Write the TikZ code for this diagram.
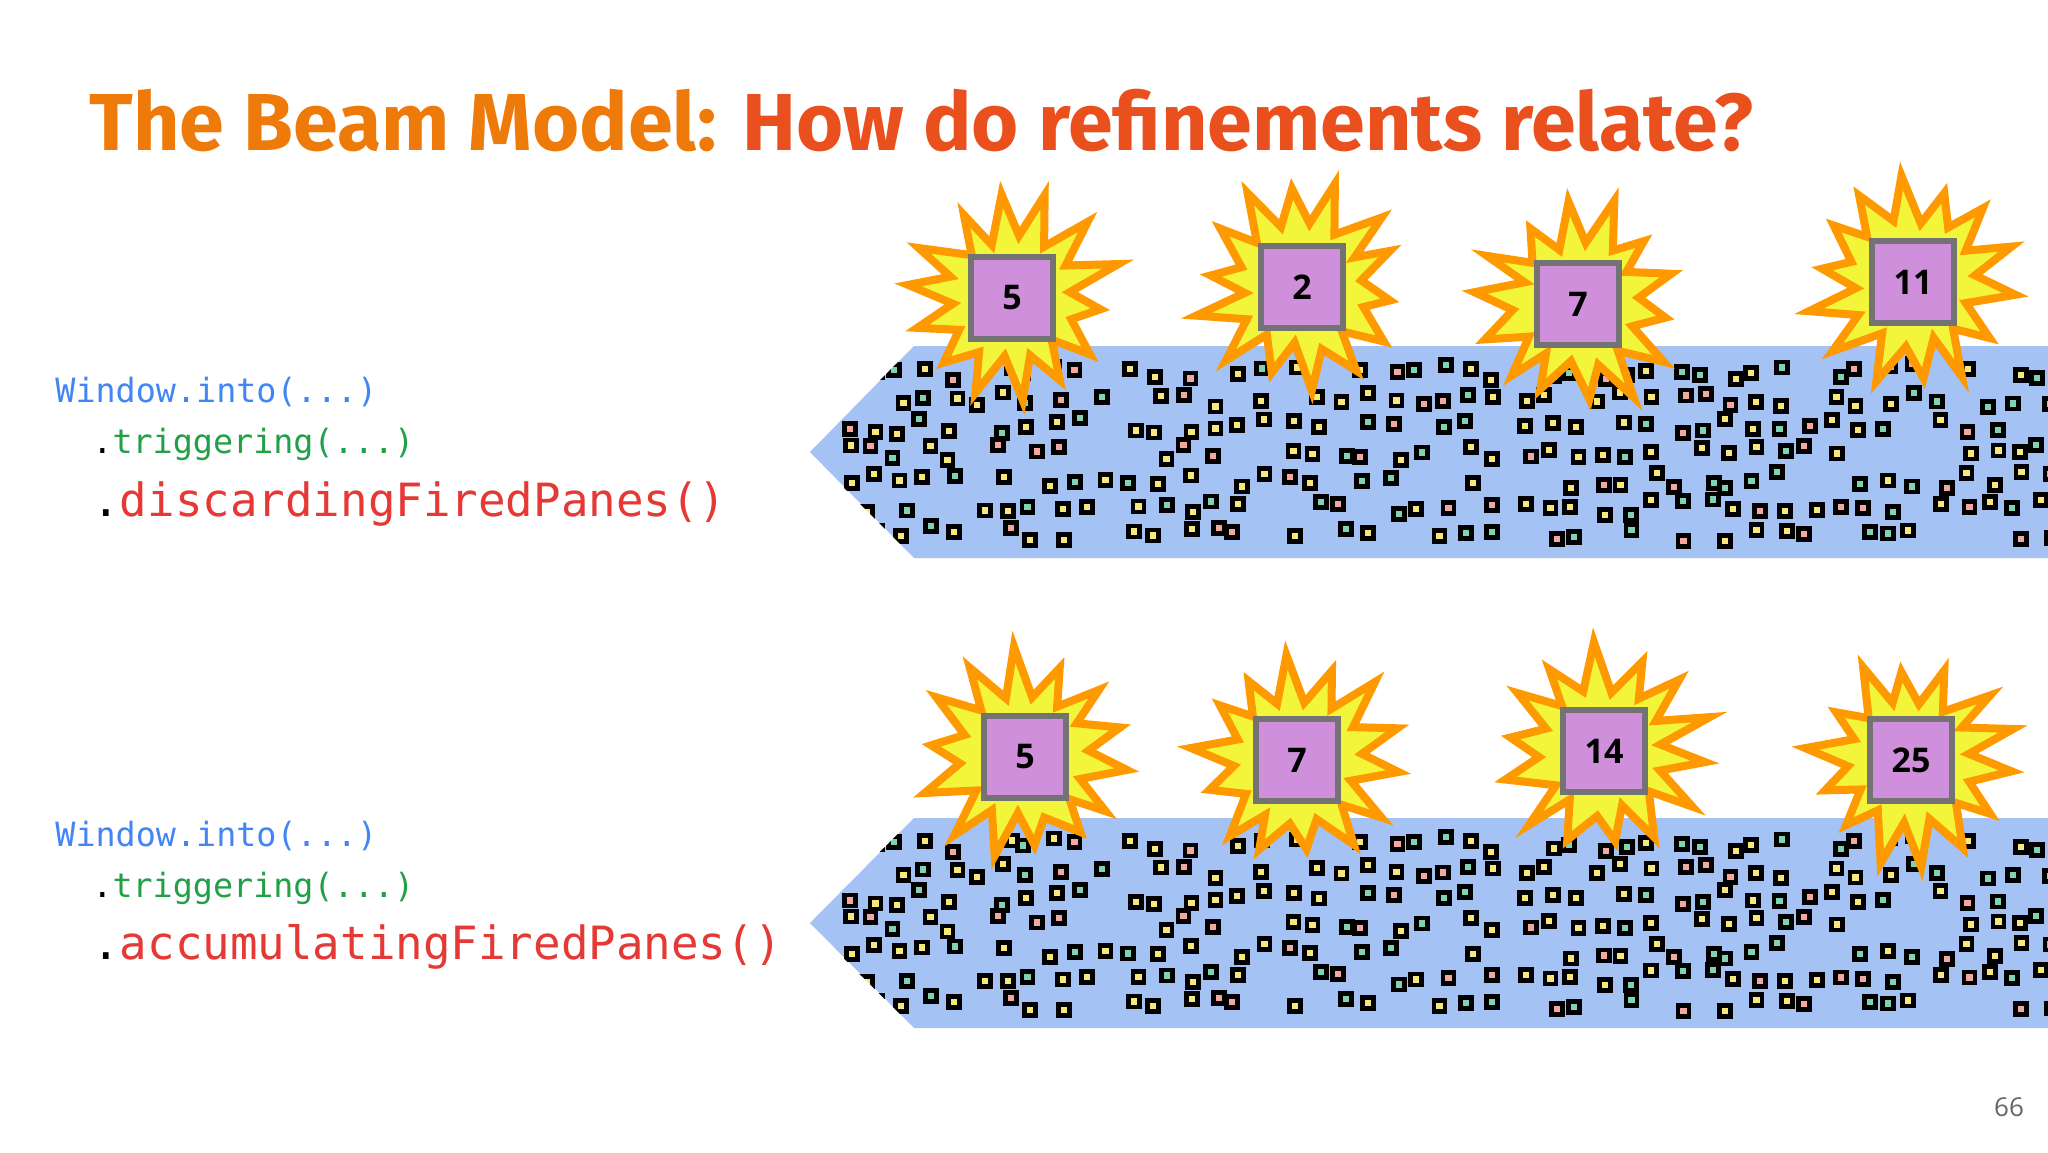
\documentclass[tikz,border=0pt]{standalone}
\usepackage{fontspec}
\setmainfont{Open Sans}
\newfontfamily\titlefont{Fira Sans}
\setmonofont{DejaVu Sans Mono}
\usepackage{graphicx}
\definecolor{tor}{HTML}{EE7A0A}
\definecolor{tred}{HTML}{E9501E}
\definecolor{cblue}{HTML}{4285F4}
\definecolor{cgreen}{HTML}{23A047}
\definecolor{cred}{HTML}{E53935}
\definecolor{band}{HTML}{A4C2F4}
\definecolor{dp}{HTML}{F4A7A0}
\definecolor{dy}{HTML}{F7E87A}
\definecolor{dt}{HTML}{7FD3B2}
\definecolor{syel}{HTML}{F2F53A}
\definecolor{sora}{HTML}{FF9900}
\definecolor{boxp}{HTML}{CF8FDB}
\pgfmathdeclarerandomlist{dotc}{{dp}{dy}{dt}{dy}}
\tikzset{
  codebig/.style={anchor=west,font=\ttfamily\fontsize{22.9}{24}\selectfont,inner sep=0},
  codesm/.style={anchor=west,font=\ttfamily\fontsize{16.7}{18}\selectfont,inner sep=0},
  numbox/.style={draw=black!55,line width=3pt,fill=boxp,minimum size=41pt,inner sep=0,
     font=\bfseries\fontsize{17}{18}\selectfont},
  starsh/.style={fill=syel,draw=sora,line width=4pt,line join=miter,miter limit=10}
}
\newcommand{\burst}[3]{%
  \pgfmathsetseed{#3}
  \draw[starsh] plot[samples at={0,...,27}] ({#1+cos(\x*360/28+7)*(mod(\x,2)==0?(88+rnd*25):(56+rnd*10))},{#2+sin(\x*360/28+7)*(mod(\x,2)==0?(88+rnd*25):(56+rnd*10))}) -- cycle;
}
\newcommand{\bandat}[2]{% top y, bottom y
  \pgfmathsetmacro{\mid}{(#1+#2)/2}
  \fill[band] (2048,#1) -- (914,#1) -- (810,\mid) -- (914,#2) -- (2048,#2) -- cycle;
  \begin{scope}
  \clip (2048,#1) -- (914,#1) -- (808,\mid) -- (914,#2) -- (2048,#2) -- cycle;
  \pgfmathsetseed{4242}
  \foreach \c in {0,...,47}{
   \foreach \r in {0,...,6}{
    \pgfmathsetmacro{\dx}{848+\c*26+rand*8}
    \pgfmathsetmacro{\dy}{#1+26+\r*(#2-#1-50)/6+rand*8}
    \pgfmathsetmacro{\keep}{rnd}
    \pgfmathrandomitem{\dc}{dotc}
    \ifdim\keep pt<0.78pt
    \draw[black,line width=2.4pt,fill=\dc] (\dx-5.5,\dy-5.5) rectangle (\dx+5.5,\dy+5.5);
    \fi
   }
  }
  \end{scope}
}
\begin{document}
\begin{tikzpicture}[x=0.5pt,y=-0.5pt]
\useasboundingbox[fill=white] (0,0) rectangle (2048,1152);
\node[anchor=base west,inner sep=0] (title) at (89,150)
  {\resizebox{832pt}{!}{\titlefont\bfseries\color{tor}The Beam Model: \color{tred}How do refinements relate?}};
\bandat{346}{558}
\bandat{818}{1028}
\burst{1012}{298}{11}\node[numbox] (a1) at (1012,298) {5};
\burst{1302}{287}{12}\node[numbox] (a2) at (1302,287) {2};
\burst{1578}{304}{13}\node[numbox] (a3) at (1578,304) {7};
\burst{1913}{282}{14}\node[numbox] (a4) at (1913,282) {11};
\burst{1025}{757}{15}\node[numbox] (b1) at (1025,757) {5};
\burst{1297}{760}{16}\node[numbox] (b2) at (1297,760) {7};
\burst{1604}{751}{17}\node[numbox] (b3) at (1604,751) {14};
\burst{1911}{760}{18}\node[numbox] (b4) at (1911,760) {25};
\node[codesm,text=cblue] (c1) at (55,392) {Window.into(...)};
\node[codesm] (c2) at (92,444) {.\textcolor{cgreen}{triggering(...)}};
\node[codebig] (c3) at (92,504) {.\textcolor{cred}{discardingFiredPanes()}};
\node[codesm,text=cblue] (d1) at (55,836) {Window.into(...)};
\node[codesm] (d2) at (92,888) {.\textcolor{cgreen}{triggering(...)}};
\node[codebig] (d3) at (92,947) {.\textcolor{cred}{accumulatingFiredPanes()}};
\node[text=black!60,font=\fontsize{13}{14}\selectfont] (pg) at (2009,1107) {66};
\end{tikzpicture}
\end{document}
